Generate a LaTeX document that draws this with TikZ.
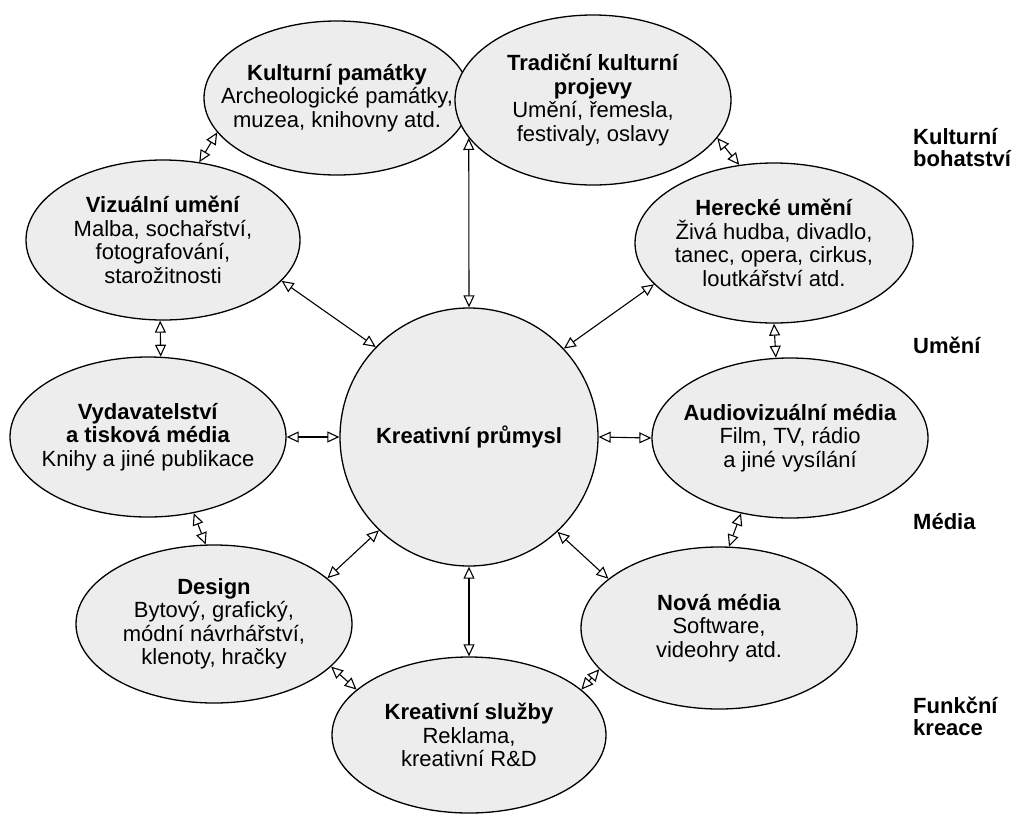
\documentclass[tikz,border=0pt]{standalone}
\usepackage{fontspec}
\setmainfont{Liberation Sans}
\usetikzlibrary{shapes.geometric,arrows.meta}
\begin{document}
\begin{tikzpicture}[x=1pt,y=-1pt,
  bub/.style={ellipse, draw=black, line width=1.3pt, fill=black!7, inner sep=0pt},
  txt/.style={align=center, inner sep=0pt, font=\fontsize{22}{23.5}\selectfont},
  conn/.style={line width=1.1pt, {Triangle[open,length=12pt,width=11pt,line width=1.1pt]}-{Triangle[open,length=12pt,width=11pt,line width=1.1pt]}},
  side/.style={font=\bfseries\fontsize{22}{22}\selectfont, align=left, anchor=west, inner sep=0pt}]
\useasboundingbox[fill=white] (0,0) rectangle (1014,817);

\node[bub, minimum width=266, minimum height=154] (K) at (337,98) {};
\node[txt] (Kt) at (K) {\textbf{Kulturní památky}\\Archeologické památky,\\muzea, knihovny atd.};
\node[bub, minimum width=276, minimum height=170] (T) at (593,100) {};
\node[txt] (Tt) at (T) {\textbf{Tradiční kulturní}\\\textbf{projevy}\\Umění, řemesla,\\festivaly, oslavy};
\node[bub, minimum width=274, minimum height=160] (V) at (163,240) {};
\node[txt] (Vt) at (V) {\textbf{Vizuální umění}\\Malba, sochařství,\\fotografování,\\starožitnosti};
\node[bub, minimum width=278, minimum height=160] (H) at (774,243) {};
\node[txt] (Ht) at (H) {\textbf{Herecké umění}\\Živá hudba, divadlo,\\tanec, opera, cirkus,\\loutkářství atd.};
\node[circle, draw=black, line width=1.3pt, fill=black!7, inner sep=0pt, minimum size=258] (C) at (469,437) {};
\node[txt] (Ct) at (C) {\textbf{Kreativní průmysl}};
\node[bub, minimum width=276, minimum height=160] (P) at (148,437) {};
\node[txt] (Pt) at (P) {\textbf{Vydavatelství}\\\textbf{a tisková média}\\Knihy a jiné publikace};
\node[bub, minimum width=276, minimum height=160] (A) at (790,438) {};
\node[txt] (At) at (A) {\textbf{Audiovizuální média}\\Film, TV, rádio\\a jiné vysílání};
\node[bub, minimum width=276, minimum height=158] (D) at (214,624) {};
\node[txt] (Dt) at (D) {\textbf{Design}\\Bytový, grafický,\\módní návrhářství,\\klenoty, hračky};
\node[bub, minimum width=276, minimum height=162] (N) at (719,628) {};
\node[txt] (Nt) at (N) {\textbf{Nová média}\\Software,\\videohry atd.};
\node[bub, minimum width=274, minimum height=156] (S) at (469,735) {};
\node[txt] (St) at (S) {\textbf{Kreativní služby}\\Reklama,\\kreativní R\&D};

% connectors to centre
\draw[conn] (T.197) -- (C.north);
\draw[conn] (V.341) -- (C.136);
\draw[conn] (H.199) -- (C.43);
\draw[conn] (P.east) -- (C.west);
\draw[conn] (C.east) -- (A.west);
\draw[conn] (D.22) -- (C.226);
\draw[conn] (N.156) -- (C.313.5);
\draw[conn] (C.south) -- (S.north);
% peripheral
\draw[conn] (K.196) -- (V.65);
\draw[conn] (T.343) -- (H.114);
\draw[conn] (V.268) -- (P.81);
\draw[conn] (H.south) -- (A.100);
\draw[conn] (P.301.6) -- (D.96.5);
\draw[conn] (A.237.6) -- (N.83.7);
\draw[conn] (D.340) -- (S.158.5);
\draw[conn] (N.199) -- (S.22.4);

% side labels
\node[side] (L1) at (913,148) {Kulturní\\bohatství};
\node[side] (L2) at (913,345) {Umění};
\node[side] (L3) at (913,522) {Média};
\node[side] (L4) at (913,716) {Funkční\\kreace};
\end{tikzpicture}
\end{document}
